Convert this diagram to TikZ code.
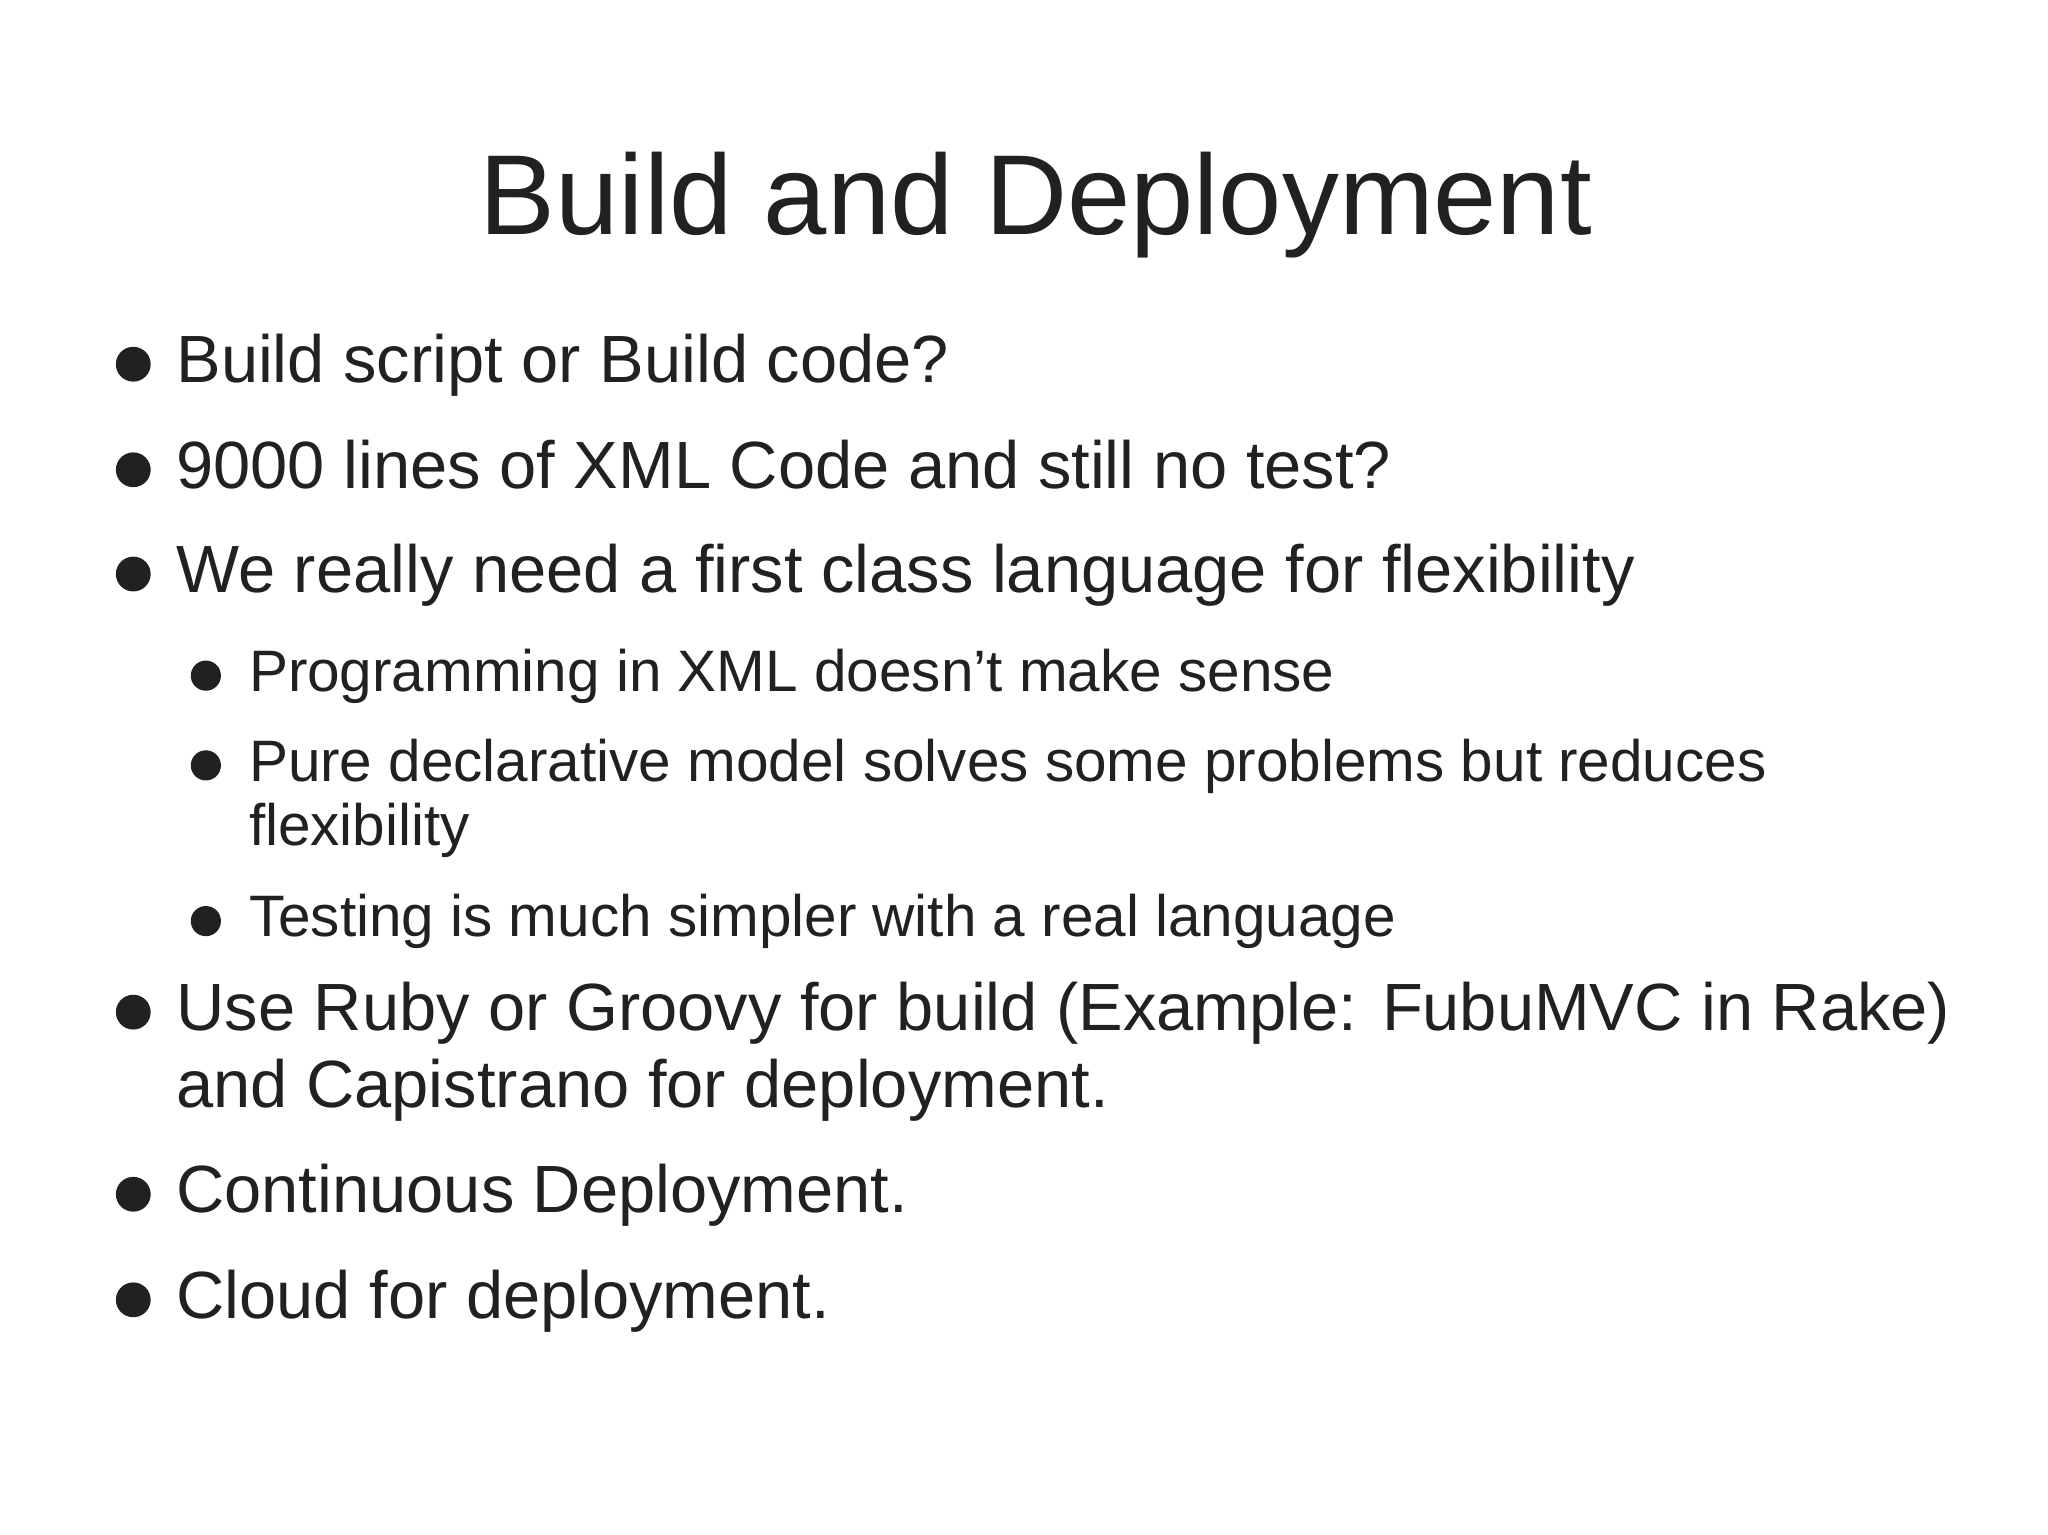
\documentclass[tikz,border=0pt]{standalone}
\usepackage{fontspec}
\setmainfont{Liberation Sans}
\begin{document}
\begin{tikzpicture}[x=0.01cm,y=-0.01cm,
  title/.style={anchor=base,inner sep=0pt,font=\fontsize{24.5pt}{30pt}\selectfont,text=black!87},
  lone/.style={anchor=base west,inner sep=0pt,font=\fontsize{14.4pt}{19pt}\selectfont,text=black!87},
  ltwo/.style={anchor=base west,inner sep=0pt,font=\fontsize{12.6pt}{16pt}\selectfont,text=black!87},
  dotone/.style={circle,fill=black!87,inner sep=0pt,minimum size=7.5},
  dottwo/.style={circle,fill=black!87,inner sep=0pt,minimum size=6.5}]
\useasboundingbox[fill=white] (0,0) rectangle (1552,1163);
\node[title] (t) at (785,178) {Build and Deployment};
\foreach \y/\t [count=\i] in {290/{Build script or Build code?},370/{9000 lines of XML Code and still no test?},449/{We really need a first class language for flexibility},781/{Use Ruby or Groovy for build (Example: FubuMVC in Rake)},919/{Continuous Deployment.},999/{Cloud for deployment.}}{
  \node[lone] (m\i) at (133,\y) {\t};
  \node[dotone] (d\i) at (101,\y-14) {};
}
\node[lone] (m7) at (133,839) {and Capistrano for deployment.};
\foreach \y/\t [count=\i] in {524/{Programming in XML doesn\symbol{39}t make sense},592/{Pure declarative model solves some problems but reduces},710/{Testing is much simpler with a real language}}{
  \node[ltwo] (s\i) at (188,\y) {\t};
  \node[dottwo] (e\i) at (156,\y-12) {};
}
\node[ltwo] (s4) at (188,641) {flexibility};
\end{tikzpicture}
\end{document}
